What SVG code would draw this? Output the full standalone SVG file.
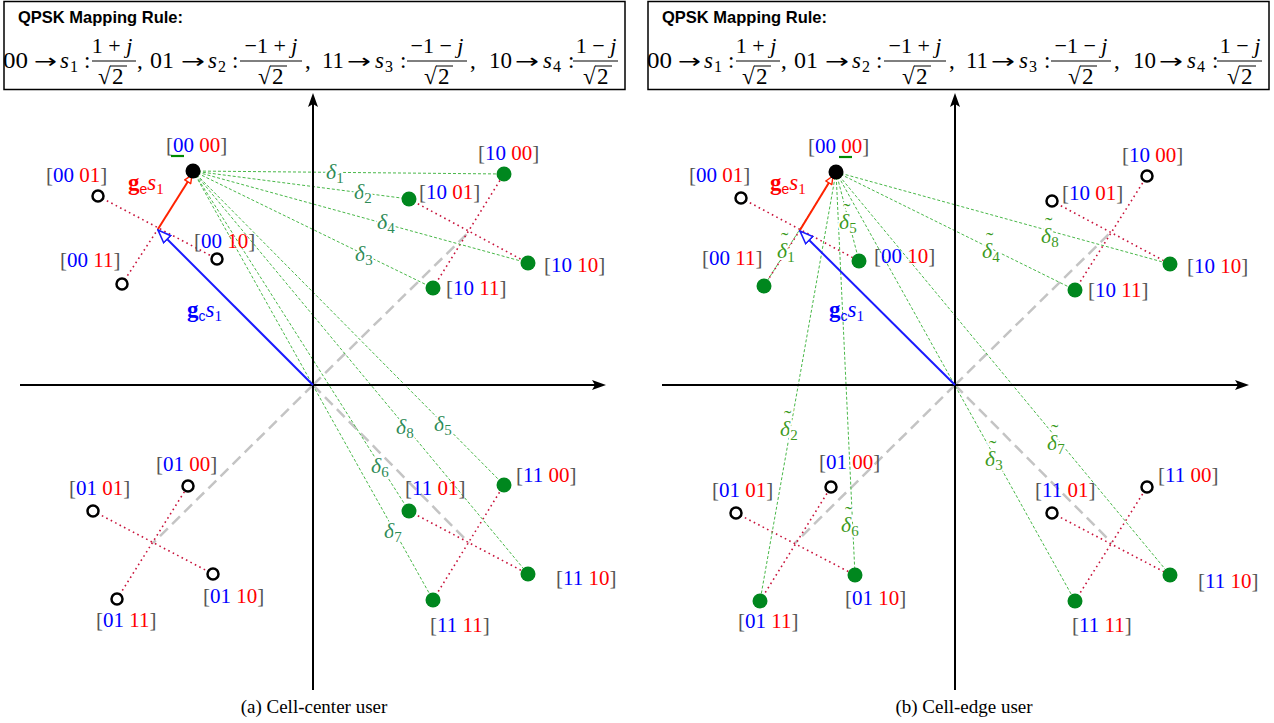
<svg xmlns="http://www.w3.org/2000/svg" width="1274" height="723" viewBox="0 0 1274 723">
<style>
.box{fill:#fff;stroke:#000;stroke-width:1.5}
.title{font-family:"Liberation Sans",Arial,sans-serif;font-weight:bold;font-size:16.5px;fill:#000}
.m text{font-family:"Liberation Serif","Times New Roman",serif;font-size:23px;fill:#000}
.m .it{font-style:italic}
.m .sub{font-size:16px}
.m .nu{font-size:22px;text-anchor:middle}
.m .ar{font-family:"DejaVu Sans",sans-serif;font-size:20px}
.m line{stroke:#000;stroke-width:1}
.ax{stroke:#000;stroke-width:2;fill:none}
.gray{stroke:#c4c4c4;stroke-width:2.5;stroke-dasharray:11 6;fill:none}
.dot{stroke:#c8143c;stroke-width:1.6;stroke-dasharray:1.6 3.4;fill:none}
.gd{stroke:#49b849;stroke-width:1;stroke-dasharray:3 2;fill:none}
.pg{fill:#00871e}
.po{fill:#fff;stroke:#000;stroke-width:2.5}
.pb{fill:#000}
.lb{font-family:"Liberation Serif","Times New Roman",serif;font-size:21px}
.k{fill:#555}
.b{fill:#0000ff}
.r{fill:#ff0000}
.ul{stroke:#008a00;stroke-width:2.2}
.dl{font-family:"Liberation Serif","Times New Roman",serif;font-style:italic;font-size:22px;fill:#2e8b57;stroke:#fff;stroke-width:4;paint-order:stroke}
.dt{fill:#3c9a1e}
.tl{font-style:normal}
.ds{font-style:normal;font-size:15px}
.gl{font-family:"Liberation Serif","Times New Roman",serif;font-size:23px}
.gl .bd{font-weight:bold}
.gl .sf{font-family:"Liberation Sans",Arial,sans-serif;font-size:14px}
.gl .i{font-style:italic}
.gl .n{font-size:15px}
.cap{font-family:"Liberation Serif","Times New Roman",serif;font-size:19px;fill:#000;text-anchor:middle}
</style>
<defs>
<marker id="mAx" viewBox="0 0 14 10" refX="11" refY="5" markerWidth="14" markerHeight="10" orient="auto" markerUnits="userSpaceOnUse"><path d="M0,0 L14,5 L0,10 L3,5 z" fill="#000"/></marker>
<marker id="mBl" viewBox="0 0 15 12" refX="14" refY="6" markerWidth="15" markerHeight="12" orient="auto" markerUnits="userSpaceOnUse"><path d="M1,1 L14,6 L1,11 z" fill="#fff" stroke="#1a1aff" stroke-width="1.6"/></marker>
<marker id="mRd" viewBox="0 0 10 9" refX="9" refY="4.5" markerWidth="10" markerHeight="9" orient="auto" markerUnits="userSpaceOnUse"><path d="M1,1 L9,4.5 L1,8 z" fill="#fff" stroke="#ff2200" stroke-width="1.4"/></marker>
<g id="rule">
<rect class="box" x="4" y="1.5" width="621" height="88"/>
<text class="title" x="18" y="23">QPSK Mapping Rule:</text>
<g class="m">
<text x="3" y="68" textLength="25" lengthAdjust="spacingAndGlyphs">00</text><text class="ar" x="34" y="68" textLength="23" lengthAdjust="spacingAndGlyphs">→</text><text class="it" x="60" y="68">s</text><text class="sub" x="70" y="72">1</text><text x="84" y="68">:</text>
<text class="nu" x="112" y="53">1 + <tspan class="it">j</tspan></text><line x1="92" y1="61" x2="136" y2="61"/><text x="98" y="84">√</text><line x1="110" y1="66" x2="127" y2="66"/><text x="112" y="84">2</text><text x="137" y="68">,</text>
<text x="150" y="68" textLength="24" lengthAdjust="spacingAndGlyphs">01</text><text class="ar" x="181" y="68" textLength="24" lengthAdjust="spacingAndGlyphs">→</text><text class="it" x="208" y="68">s</text><text class="sub" x="218" y="72">2</text><text x="232" y="68">:</text>
<text class="nu" x="271" y="53">−1 + <tspan class="it">j</tspan></text><line x1="240" y1="61" x2="302" y2="61"/><text x="258" y="84">√</text><line x1="270" y1="66" x2="287" y2="66"/><text x="272" y="84">2</text><text x="305" y="68">,</text>
<text x="322" y="68" textLength="22" lengthAdjust="spacingAndGlyphs">11</text><text class="ar" x="347" y="68" textLength="24" lengthAdjust="spacingAndGlyphs">→</text><text class="it" x="375" y="68">s</text><text class="sub" x="385" y="72">3</text><text x="400" y="68">:</text>
<text class="nu" x="437" y="53">−1 − <tspan class="it">j</tspan></text><line x1="407" y1="61" x2="467" y2="61"/><text x="424" y="84">√</text><line x1="436" y1="66" x2="453" y2="66"/><text x="438" y="84">2</text><text x="470" y="68">,</text>
<text x="489" y="68" textLength="23" lengthAdjust="spacingAndGlyphs">10</text><text class="ar" x="515" y="68" textLength="24" lengthAdjust="spacingAndGlyphs">→</text><text class="it" x="543" y="68">s</text><text class="sub" x="553" y="72">4</text><text x="568" y="68">:</text>
<text class="nu" x="596" y="53">1 − <tspan class="it">j</tspan></text><line x1="573" y1="61" x2="618" y2="61"/><text x="583" y="84">√</text><line x1="595" y1="66" x2="612" y2="66"/><text x="597" y="84">2</text>
</g>
</g>
</defs>

<use href="#rule"/>
<use href="#rule" x="644"/>

<!-- ===== Panel (a) connectors ===== -->
<g id="connectors-a">
<line class="gray" x1="313" y1="385" x2="470" y2="231"/>
<line class="gray" x1="313" y1="385" x2="153" y2="543"/>
<line class="gray" x1="313" y1="385" x2="469" y2="543"/>
<line class="dot" x1="98" y1="196" x2="217" y2="259"/>
<line class="dot" x1="122" y1="284" x2="158" y2="229"/>
<line class="dot" x1="409" y1="199" x2="528" y2="263"/>
<line class="dot" x1="433" y1="288" x2="504" y2="174"/>
<line class="dot" x1="93" y1="511" x2="213" y2="574"/>
<line class="dot" x1="117" y1="599" x2="188" y2="486"/>
<line class="dot" x1="409" y1="511" x2="528" y2="574"/>
<line class="dot" x1="433" y1="600" x2="504" y2="485"/>
<line class="gd" x1="193" y1="171" x2="504" y2="174"/>
<line class="gd" x1="193" y1="171" x2="409" y2="199"/>
<line class="gd" x1="193" y1="171" x2="528" y2="263"/>
<line class="gd" x1="193" y1="171" x2="433" y2="288"/>
<line class="gd" x1="193" y1="171" x2="504" y2="485"/>
<line class="gd" x1="193" y1="171" x2="409" y2="511"/>
<line class="gd" x1="193" y1="171" x2="528" y2="574"/>
<line class="gd" x1="193" y1="171" x2="433" y2="600"/>
<line class="ax" x1="313" y1="690" x2="313" y2="96" marker-end="url(#mAx)"/>
<line class="ax" x1="20" y1="385" x2="603" y2="385" marker-end="url(#mAx)"/>
<line x1="313" y1="385" x2="158" y2="230" stroke="#1a1aff" stroke-width="2" marker-end="url(#mBl)"/>
<line x1="158" y1="229" x2="192" y2="175" stroke="#ff2200" stroke-width="2" marker-end="url(#mRd)"/>
<text class="dl" x="326" y="179">δ<tspan class="ds" dy="4">1</tspan></text>
<text class="dl" x="354" y="199">δ<tspan class="ds" dy="4">2</tspan></text>
<text class="dl" x="377" y="229">δ<tspan class="ds" dy="4">4</tspan></text>
<text class="dl" x="355" y="261">δ<tspan class="ds" dy="4">3</tspan></text>
<text class="dl" x="434" y="431">δ<tspan class="ds" dy="4">5</tspan></text>
<text class="dl" x="396" y="434">δ<tspan class="ds" dy="4">8</tspan></text>
<text class="dl" x="371" y="473">δ<tspan class="ds" dy="4">6</tspan></text>
<text class="dl" x="384" y="538">δ<tspan class="ds" dy="4">7</tspan></text>
<text class="gl r" x="128" y="190"><tspan class="bd">g</tspan><tspan class="sf" dy="4">e</tspan><tspan class="i" dy="-4">s</tspan><tspan class="n" dy="4">1</tspan></text>
<text class="gl b" x="187" y="317"><tspan class="bd">g</tspan><tspan class="sf" dy="4">c</tspan><tspan class="i" dy="-4">s</tspan><tspan class="n" dy="4">1</tspan></text>
</g>

<!-- ===== Panel (a) nodes ===== -->
<g id="a-0000"><circle class="pb" cx="193" cy="171" r="7.5"/><text class="lb" x="166" y="152"><tspan class="k">[</tspan><tspan class="b">00</tspan> <tspan class="r">00</tspan><tspan class="k">]</tspan></text><line class="ul" x1="171" y1="156" x2="184" y2="156"/></g>
<g id="a-0001"><circle class="po" cx="98" cy="196" r="5.5"/><text class="lb" x="46" y="182"><tspan class="k">[</tspan><tspan class="b">00</tspan> <tspan class="r">01</tspan><tspan class="k">]</tspan></text></g>
<g id="a-0010"><circle class="po" cx="217" cy="259" r="5.5"/><text class="lb" x="194" y="248"><tspan class="k">[</tspan><tspan class="b">00</tspan> <tspan class="r">10</tspan><tspan class="k">]</tspan></text></g>
<g id="a-0011"><circle class="po" cx="122" cy="284" r="5.5"/><text class="lb" x="60" y="267"><tspan class="k">[</tspan><tspan class="b">00</tspan> <tspan class="r">11</tspan><tspan class="k">]</tspan></text></g>
<g id="a-1000"><circle class="pg" cx="504" cy="174" r="7.5"/><text class="lb" x="478" y="160"><tspan class="k">[</tspan><tspan class="b">10</tspan> <tspan class="r">00</tspan><tspan class="k">]</tspan></text></g>
<g id="a-1001"><circle class="pg" cx="409" cy="199" r="7.5"/><text class="lb" x="419" y="199"><tspan class="k">[</tspan><tspan class="b">10</tspan> <tspan class="r">01</tspan><tspan class="k">]</tspan></text></g>
<g id="a-1010"><circle class="pg" cx="528" cy="263" r="7.5"/><text class="lb" x="544" y="272"><tspan class="k">[</tspan><tspan class="b">10</tspan> <tspan class="r">10</tspan><tspan class="k">]</tspan></text></g>
<g id="a-1011"><circle class="pg" cx="433" cy="288" r="7.5"/><text class="lb" x="446" y="295"><tspan class="k">[</tspan><tspan class="b">10</tspan> <tspan class="r">11</tspan><tspan class="k">]</tspan></text></g>
<g id="a-0100"><circle class="po" cx="188" cy="486" r="5.5"/><text class="lb" x="156" y="471"><tspan class="k">[</tspan><tspan class="b">01</tspan> <tspan class="r">00</tspan><tspan class="k">]</tspan></text></g>
<g id="a-0101"><circle class="po" cx="93" cy="511" r="5.5"/><text class="lb" x="69" y="495"><tspan class="k">[</tspan><tspan class="b">01</tspan> <tspan class="r">01</tspan><tspan class="k">]</tspan></text></g>
<g id="a-0110"><circle class="po" cx="213" cy="574" r="5.5"/><text class="lb" x="203" y="603"><tspan class="k">[</tspan><tspan class="b">01</tspan> <tspan class="r">10</tspan><tspan class="k">]</tspan></text></g>
<g id="a-0111"><circle class="po" cx="117" cy="599" r="5.5"/><text class="lb" x="96" y="627"><tspan class="k">[</tspan><tspan class="b">01</tspan> <tspan class="r">11</tspan><tspan class="k">]</tspan></text></g>
<g id="a-1100"><circle class="pg" cx="504" cy="485" r="7.5"/><text class="lb" x="516" y="482"><tspan class="k">[</tspan><tspan class="b">11</tspan> <tspan class="r">00</tspan><tspan class="k">]</tspan></text></g>
<g id="a-1101"><circle class="pg" cx="409" cy="511" r="7.5"/><text class="lb" x="405" y="495"><tspan class="k">[</tspan><tspan class="b">11</tspan> <tspan class="r">01</tspan><tspan class="k">]</tspan></text></g>
<g id="a-1110"><circle class="pg" cx="528" cy="574" r="7.5"/><text class="lb" x="556" y="585"><tspan class="k">[</tspan><tspan class="b">11</tspan> <tspan class="r">10</tspan><tspan class="k">]</tspan></text></g>
<g id="a-1111"><circle class="pg" cx="433" cy="600" r="7.5"/><text class="lb" x="430" y="632"><tspan class="k">[</tspan><tspan class="b">11</tspan> <tspan class="r">11</tspan><tspan class="k">]</tspan></text></g>

<!-- ===== Panel (b) connectors ===== -->
<g id="connectors-b">
<line class="gray" x1="955" y1="385" x2="1111" y2="232"/>
<line class="gray" x1="955" y1="385" x2="795" y2="543"/>
<line class="gray" x1="955" y1="385" x2="1112" y2="543"/>
<line class="dot" x1="741" y1="198" x2="859" y2="261"/>
<line class="dot" x1="764" y1="286" x2="800" y2="230"/>
<line class="dot" x1="1052" y1="201" x2="1170" y2="264"/>
<line class="dot" x1="1075" y1="290" x2="1147" y2="176"/>
<line class="dot" x1="736" y1="513" x2="855" y2="575"/>
<line class="dot" x1="760" y1="601" x2="831" y2="487"/>
<line class="dot" x1="1052" y1="513" x2="1170" y2="575"/>
<line class="dot" x1="1075" y1="601" x2="1147" y2="487"/>
<line class="gd" x1="836" y1="172" x2="859" y2="261"/>
<line class="gd" x1="836" y1="172" x2="764" y2="286"/>
<line class="gd" x1="836" y1="172" x2="1170" y2="264"/>
<line class="gd" x1="836" y1="172" x2="1075" y2="290"/>
<line class="gd" x1="836" y1="172" x2="855" y2="575"/>
<line class="gd" x1="836" y1="172" x2="760" y2="601"/>
<line class="gd" x1="836" y1="172" x2="1170" y2="575"/>
<line class="gd" x1="836" y1="172" x2="1075" y2="601"/>
<line class="ax" x1="955" y1="690" x2="955" y2="96" marker-end="url(#mAx)"/>
<line class="ax" x1="662" y1="385" x2="1246" y2="385" marker-end="url(#mAx)"/>
<line x1="955" y1="385" x2="800" y2="231" stroke="#1a1aff" stroke-width="2" marker-end="url(#mBl)"/>
<line x1="800" y1="230" x2="833" y2="176" stroke="#ff2200" stroke-width="2" marker-end="url(#mRd)"/>
<g class="dl dt">
<text x="777" y="258">δ<tspan class="ds" dy="4">1</tspan><tspan class="tl" x="781" y="247">˜</tspan></text>
<text x="839" y="229">δ<tspan class="ds" dy="4">5</tspan><tspan class="tl" x="843" y="218">˜</tspan></text>
<text x="1041" y="243">δ<tspan class="ds" dy="4">8</tspan><tspan class="tl" x="1045" y="232">˜</tspan></text>
<text x="982" y="258">δ<tspan class="ds" dy="4">4</tspan><tspan class="tl" x="986" y="247">˜</tspan></text>
<text x="780" y="436">δ<tspan class="ds" dy="4">2</tspan><tspan class="tl" x="784" y="425">˜</tspan></text>
<text x="841" y="532">δ<tspan class="ds" dy="4">6</tspan><tspan class="tl" x="845" y="521">˜</tspan></text>
<text x="985" y="466">δ<tspan class="ds" dy="4">3</tspan><tspan class="tl" x="989" y="455">˜</tspan></text>
<text x="1047" y="450">δ<tspan class="ds" dy="4">7</tspan><tspan class="tl" x="1051" y="439">˜</tspan></text>
</g>
<text class="gl r" x="770" y="190"><tspan class="bd">g</tspan><tspan class="sf" dy="4">e</tspan><tspan class="i" dy="-4">s</tspan><tspan class="n" dy="4">1</tspan></text>
<text class="gl b" x="829" y="317"><tspan class="bd">g</tspan><tspan class="sf" dy="4">c</tspan><tspan class="i" dy="-4">s</tspan><tspan class="n" dy="4">1</tspan></text>
</g>

<!-- ===== Panel (b) nodes ===== -->
<g id="b-0000"><circle class="pb" cx="836" cy="172" r="7.5"/><text class="lb" x="808" y="153"><tspan class="k">[</tspan><tspan class="b">00</tspan> <tspan class="r">00</tspan><tspan class="k">]</tspan></text><line class="ul" x1="839" y1="157" x2="852" y2="157"/></g>
<g id="b-0001"><circle class="po" cx="741" cy="198" r="5.5"/><text class="lb" x="689" y="182"><tspan class="k">[</tspan><tspan class="b">00</tspan> <tspan class="r">01</tspan><tspan class="k">]</tspan></text></g>
<g id="b-0010"><circle class="pg" cx="859" cy="261" r="7.5"/><text class="lb" x="874" y="263"><tspan class="k">[</tspan><tspan class="b">00</tspan> <tspan class="r">10</tspan><tspan class="k">]</tspan></text></g>
<g id="b-0011"><circle class="pg" cx="764" cy="286" r="7.5"/><text class="lb" x="702" y="265"><tspan class="k">[</tspan><tspan class="b">00</tspan> <tspan class="r">11</tspan><tspan class="k">]</tspan></text></g>
<g id="b-1000"><circle class="po" cx="1147" cy="176" r="5.5"/><text class="lb" x="1122" y="162"><tspan class="k">[</tspan><tspan class="b">10</tspan> <tspan class="r">00</tspan><tspan class="k">]</tspan></text></g>
<g id="b-1001"><circle class="po" cx="1052" cy="201" r="5.5"/><text class="lb" x="1062" y="200"><tspan class="k">[</tspan><tspan class="b">10</tspan> <tspan class="r">01</tspan><tspan class="k">]</tspan></text></g>
<g id="b-1010"><circle class="pg" cx="1170" cy="264" r="7.5"/><text class="lb" x="1187" y="273"><tspan class="k">[</tspan><tspan class="b">10</tspan> <tspan class="r">10</tspan><tspan class="k">]</tspan></text></g>
<g id="b-1011"><circle class="pg" cx="1075" cy="290" r="7.5"/><text class="lb" x="1088" y="297"><tspan class="k">[</tspan><tspan class="b">10</tspan> <tspan class="r">11</tspan><tspan class="k">]</tspan></text></g>
<g id="b-0100"><circle class="po" cx="831" cy="487" r="5.5"/><text class="lb" x="819" y="469"><tspan class="k">[</tspan><tspan class="b">01</tspan> <tspan class="r">00</tspan><tspan class="k">]</tspan></text></g>
<g id="b-0101"><circle class="po" cx="736" cy="513" r="5.5"/><text class="lb" x="712" y="497"><tspan class="k">[</tspan><tspan class="b">01</tspan> <tspan class="r">01</tspan><tspan class="k">]</tspan></text></g>
<g id="b-0110"><circle class="pg" cx="855" cy="575" r="7.5"/><text class="lb" x="845" y="605"><tspan class="k">[</tspan><tspan class="b">01</tspan> <tspan class="r">10</tspan><tspan class="k">]</tspan></text></g>
<g id="b-0111"><circle class="pg" cx="760" cy="601" r="7.5"/><text class="lb" x="738" y="628"><tspan class="k">[</tspan><tspan class="b">01</tspan> <tspan class="r">11</tspan><tspan class="k">]</tspan></text></g>
<g id="b-1100"><circle class="po" cx="1147" cy="487" r="5.5"/><text class="lb" x="1158" y="482"><tspan class="k">[</tspan><tspan class="b">11</tspan> <tspan class="r">00</tspan><tspan class="k">]</tspan></text></g>
<g id="b-1101"><circle class="po" cx="1052" cy="513" r="5.5"/><text class="lb" x="1035" y="497"><tspan class="k">[</tspan><tspan class="b">11</tspan> <tspan class="r">01</tspan><tspan class="k">]</tspan></text></g>
<g id="b-1110"><circle class="pg" cx="1170" cy="575" r="7.5"/><text class="lb" x="1198" y="588"><tspan class="k">[</tspan><tspan class="b">11</tspan> <tspan class="r">10</tspan><tspan class="k">]</tspan></text></g>
<g id="b-1111"><circle class="pg" cx="1075" cy="601" r="7.5"/><text class="lb" x="1072" y="632"><tspan class="k">[</tspan><tspan class="b">11</tspan> <tspan class="r">11</tspan><tspan class="k">]</tspan></text></g>

<g id="captions">
<text class="cap" x="314" y="713">(a) Cell-center user</text>
<text class="cap" x="964" y="713">(b) Cell-edge user</text>
</g>
</svg>
